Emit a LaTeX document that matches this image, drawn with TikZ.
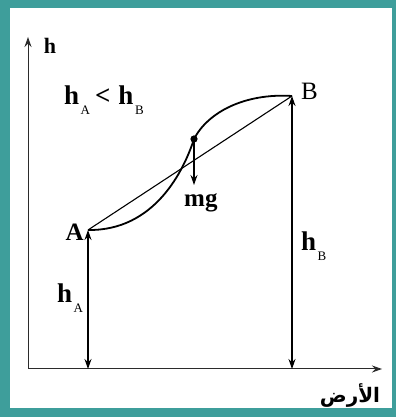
\documentclass[tikz,border=0pt]{standalone}
\usepackage{fontspec}
\setmainfont{Liberation Serif}
\newfontfamily\arabicfont[Script=Arabic]{DejaVu Sans}
\TeXXeTstate=1
\usetikzlibrary{positioning,arrows.meta}
\definecolor{FrameTeal}{HTML}{3E9E9B}
\definecolor{AxisGray}{HTML}{2B2B2B}
\newcommand{\lowsub}[1]{\hspace{1.5pt}\raisebox{-10pt}{\fontsize{13}{13}\selectfont #1}}
\tikzset{
  axisline/.style={draw=AxisGray, line width=1pt, -{Stealth[length=10pt,width=7pt]}},
  heightarrow/.style={line width=1.1pt, {Stealth[length=10pt,width=7pt]}-{Stealth[length=10pt,width=7pt]}},
  biglabel/.style={font=\fontsize{27}{27}\selectfont\bfseries, inner sep=0pt},
}

\begin{document}
\begin{tikzpicture}[x=1pt,y=1pt]
  \useasboundingbox (0,0) rectangle (396,419);
  \fill[FrameTeal] (0,2) rectangle (396,419);
  \fill[white] (10,11) rectangle (392,411);

  \coordinate (O) at (28,50);
  \coordinate (ytip) at (28,382);
  \coordinate (xtip) at (382,50);
  \coordinate (A) at (88,189);
  \coordinate (B) at (292,323);
  \coordinate (Afoot) at (88,50);
  \coordinate (Bfoot) at (292,50);
  \coordinate (ball) at (194,280);
  \coordinate (mgtip) at (194,234);

  \draw[axisline] (O) -- (ytip);
  \draw[axisline] (O) -- (xtip);
  \draw[line width=1.1pt] (A) -- (B);
  \draw[line width=1.8pt]
    (A) .. controls (155,188) and (184,249) .. (ball)
        .. controls (208,307) and (245,326) .. (B);
  \draw[heightarrow] (Afoot) -- (A);
  \draw[heightarrow] (Bfoot) -- (B);
  \fill (ball) circle (3.6pt);
  \draw[line width=1.1pt, -{Stealth[length=10pt,width=7pt]}] (ball) -- (mgtip);

  \node[font=\fontsize{22}{22}\selectfont\bfseries, inner sep=0pt] (hlabel) at (50,373) {h};
  \node[biglabel, anchor=base west] (compare) at (64,314)
    {h\lowsub{\mdseries A}\hspace{5pt}<\hspace{8pt}h\lowsub{\mdseries B}};
  \node[biglabel, anchor=base west] (hA) at (57,116) {h\lowsub{\mdseries A}};
  \node[biglabel, anchor=base west] (hB) at (301,168) {h\lowsub{\mdseries B}};
  \node[font=\fontsize{25}{25}\selectfont\bfseries, inner sep=0pt, anchor=base west] (mg) at (184,212) {mg};
  \node[font=\fontsize{25}{25}\selectfont\bfseries, inner sep=0pt, left=4pt of A, yshift=-2pt] (Alabel) {A};
  \node[font=\fontsize{25}{25}\selectfont, inner sep=0pt, right=9pt of B, yshift=5pt] (Blabel) {B};
  \node[font=\fontsize{20}{20}\selectfont\arabicfont\bfseries, inner sep=0pt] (ground) at (350,24) {\beginR الأرض\endR};
\end{tikzpicture}
\end{document}
